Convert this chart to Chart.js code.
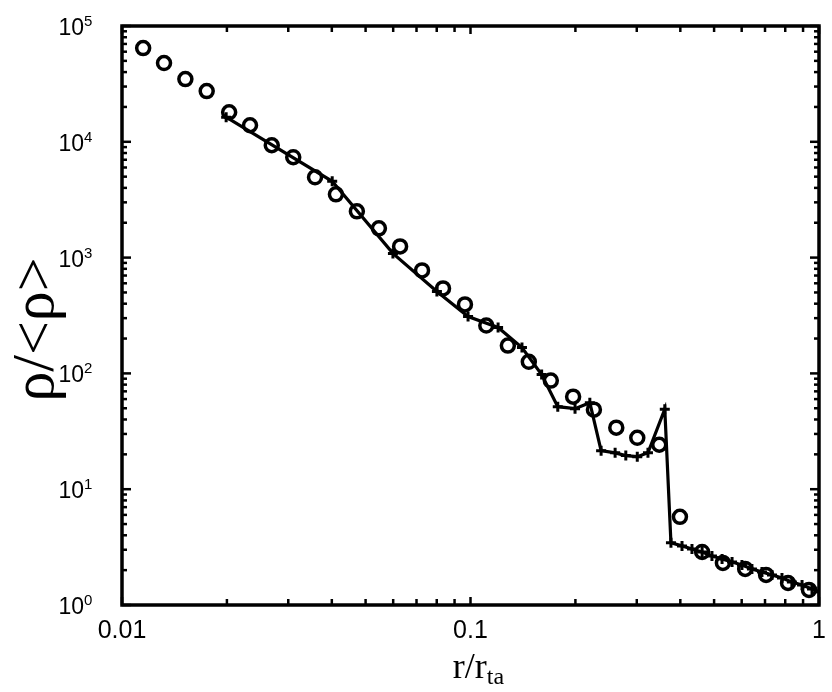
<!DOCTYPE html>
<html>
<head>
<meta charset="utf-8">
<script src="https://cdn.jsdelivr.net/npm/chart.js@4/dist/chart.umd.min.js"></script>
<style>
  body { margin: 0; background: #fff; }
  #wrap { width: 832px; height: 692px; }
</style>
</head>
<body>
<div id="wrap"><canvas id="chart"></canvas></div>
<script>
// open circles
const circleR = [0.0115, 0.0132, 0.0152, 0.0175, 0.0203, 0.0233, 0.0269, 0.0310, 0.0358, 0.0411,
    0.0472, 0.0546, 0.0628, 0.0726, 0.0834, 0.0964, 0.111, 0.128, 0.147, 0.170,
    0.197, 0.226, 0.262, 0.301, 0.348, 0.399, 0.462, 0.530, 0.614, 0.705, 0.815, 0.936]
const circleRho = [64500, 47900, 34800, 27400, 18000, 13900, 9340, 7360, 4940, 3520,
    2510, 1790, 1250, 775, 542, 394, 259, 174, 126, 86.7,
    63, 48.6, 34, 27.8, 24.2, 5.77, 2.87, 2.31, 2.05, 1.82, 1.55, 1.35]

// line with + markers
const simR = [0.0199, 0.0401, 0.0599, 0.0801, 0.0984, 0.120, 0.1405, 0.160, 0.178, 0.1995,
    0.220, 0.237, 0.260, 0.279, 0.301, 0.323, 0.361, 0.376, 0.4045, 0.432,
    0.462, 0.493, 0.527, 0.563, 0.601, 0.642, 0.686, 0.733, 0.783, 0.836, 0.894, 0.955, 1.0]
const simRho = [16300, 4560, 1087, 510, 310, 249, 167, 97.7, 51.6, 49.6,
    55.9, 21.5, 20.6, 19.5, 19.1, 20.6, 49, 3.44, 3.24, 3.05,
    2.87, 2.65, 2.50, 2.35, 2.22, 2.05, 1.93, 1.82, 1.71, 1.58, 1.49, 1.375, 1.30]

const xTicks = [0.01, 0.1, 1]
const xTickLabels = ['0.01', '0.1', '1']
const yTickExps = [0, 1, 2, 3, 4, 5]

// frame, inward ticks, labels and titles
const framePlugin = {
    id: 'frame',
    afterDraw(chart) {
        const { ctx, chartArea: a, scales: { x, y } } = chart
        ctx.save()
        ctx.strokeStyle = '#000'
        ctx.fillStyle = '#000'

        ctx.lineWidth = 2.5
        const seg = (x1, y1, x2, y2) => { ctx.beginPath(); ctx.moveTo(x1, y1); ctx.lineTo(x2, y2); ctx.stroke() }
        for (let d = -2; d <= 0; d++) {
            for (let m = 1; m < 10; m++) {
                const v = m * Math.pow(10, d)
                if (v > 1) break
                const px = x.getPixelForValue(v)
                const len = m === 1 ? 8 : 6
                seg(px, a.bottom, px, a.bottom - len)
                seg(px, a.top, px, a.top + len)
            }
        }
        for (let d = 0; d <= 5; d++) {
            for (let m = 1; m < 10; m++) {
                const v = m * Math.pow(10, d)
                if (v > 1e5) break
                const py = y.getPixelForValue(v)
                const len = m === 1 ? 9 : 5
                seg(a.left, py, a.left + len, py)
                seg(a.right, py, a.right - len, py)
            }
        }

        ctx.lineWidth = 3.5
        ctx.strokeRect(a.left, a.top, a.right - a.left, a.bottom - a.top)

        // x tick labels
        ctx.font = '25px "Liberation Sans", Arial, sans-serif'
        ctx.textAlign = 'center'
        ctx.textBaseline = 'alphabetic'
        xTicks.forEach((v, i) => {
            ctx.fillText(xTickLabels[i], x.getPixelForValue(v), a.bottom + 33)
        })

        // y tick labels 10^n
        yTickExps.forEach(e => {
            const py = y.getPixelForValue(Math.pow(10, e))
            ctx.textAlign = 'right'
            ctx.font = '23px "Liberation Sans", Arial, sans-serif'
            ctx.fillText('10', a.left - 38, py + 9)
            ctx.textAlign = 'left'
            ctx.font = '15px "Liberation Sans", Arial, sans-serif'
            ctx.fillText(String(e), a.left - 38, py)
        })

        // x title r/r_ta
        const main = 'r/r', sub = 'ta'
        ctx.font = '36px "Liberation Serif", "Times New Roman", serif'
        const w1 = ctx.measureText(main).width
        ctx.font = '24px "Liberation Serif", "Times New Roman", serif'
        const w2 = ctx.measureText(sub).width
        const cx = (a.left + a.right) / 2 + 8
        const x0 = cx - (w1 + w2) / 2
        ctx.textAlign = 'left'
        ctx.font = '36px "Liberation Serif", "Times New Roman", serif'
        ctx.fillText(main, x0, a.bottom + 73)
        ctx.font = '24px "Liberation Serif", "Times New Roman", serif'
        ctx.fillText(sub, x0 + w1, a.bottom + 79)

        // y title
        ctx.translate(53, (a.top + a.bottom) / 2 + 14)
        ctx.rotate(-Math.PI / 2)
        ctx.textAlign = 'center'
        ctx.font = '60px "Liberation Serif", "Times New Roman", serif'
        ctx.fillText('ρ/<ρ>', 0, 0)
        ctx.restore()
    }
}

new Chart(document.getElementById('chart'), {
    type: 'scatter',
    data: {
        datasets: [
            {
                label: 'circles',
                data: circleR.map((r, i) => ({ x: r, y: circleRho[i] })),
                pointStyle: 'circle',
                pointRadius: 6.5,
                pointBorderWidth: 3.5,
                borderColor: '#000',
                backgroundColor: 'rgba(0,0,0,0)',
                showLine: false,
                order: 0
            },
            {
                label: 'profile',
                data: simR.map((r, i) => ({ x: r, y: simRho[i] })),
                showLine: true,
                borderColor: '#000',
                borderWidth: 3.2,
                tension: 0,
                pointStyle: 'cross',
                pointRadius: 5,
                pointBorderWidth: 3,
                pointBorderColor: '#000',
                backgroundColor: '#000',
                order: 1
            }
        ]
    },
    options: {
        responsive: true,
        maintainAspectRatio: false,
        animation: false,
        layout: { padding: { left: 0, top: 26, right: 13, bottom: 0 } },
        scales: {
            x: {
                type: 'logarithmic',
                min: 0.01,
                max: 1,
                ticks: { display: false },
                grid: { display: false },
                border: { display: false },
                afterFit(scale) { scale.height = 87 }
            },
            y: {
                type: 'logarithmic',
                min: 1,
                max: 1e5,
                ticks: { display: false },
                grid: { display: false },
                border: { display: false },
                afterFit(scale) { scale.width = 122 }
            }
        },
        plugins: {
            legend: { display: false },
            tooltip: { enabled: false }
        }
    },
    plugins: [framePlugin]
});
</script>
</body>
</html>
